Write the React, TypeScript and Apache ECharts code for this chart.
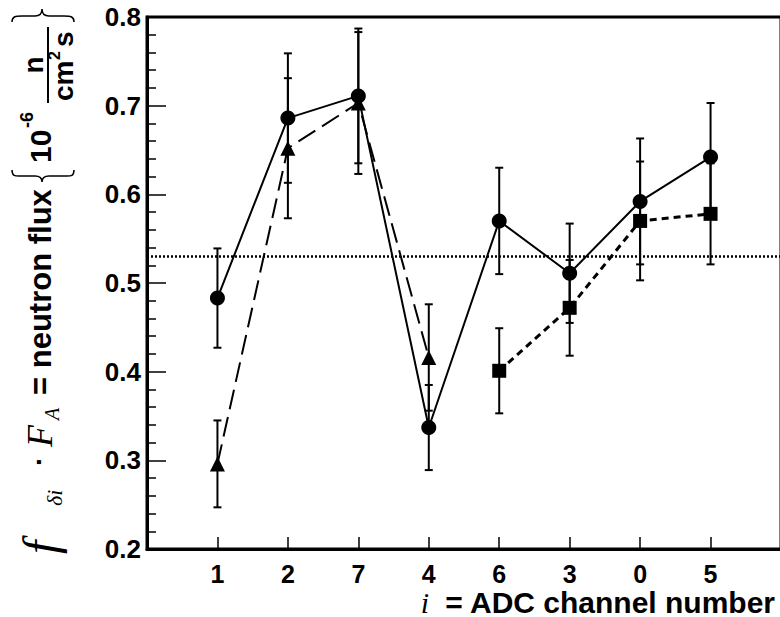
import React, { useEffect, useRef } from 'react';
import * as echarts from 'echarts';

// ADC channel labels in plotted order (positions 1..8)
const channels = ['1', '2', '7', '4', '6', '3', '0', '5'];
const circlePositions = [1, 2, 3, 4, 5, 6, 7, 8];
const circleValues = [0.483, 0.686, 0.711, 0.337, 0.570, 0.511, 0.592, 0.642];
const circleErrors = [0.056, 0.073, 0.076, 0.048, 0.060, 0.056, 0.071, 0.061];
const trianglePositions = [1, 2, 3, 4];
const triangleValues = [0.296, 0.652, 0.703, 0.416];
const triangleErrors = [0.049, 0.079, 0.080, 0.060];
const squarePositions = [5, 6, 7, 8];
const squareValues = [0.401, 0.472, 0.570, 0.578];
const squareErrors = [0.048, 0.054, 0.067, 0.057];
const referenceLevel = 0.531;

const SANS = '"Liberation Sans", Arial, sans-serif';
const SERIF = '"Liberation Serif", "Times New Roman", serif';

echarts.graphic.registerShape(
  'braceOpen',
  echarts.graphic.extendPath(
    'M 408 -28 C 401 -28 402 -24 402 -18 L 402 -5 C 402 0 400 2 396 2 C 400 2 402 4 402 9 L 402 24 C 402 30 401 34 408 34',
    {}
  )
);
echarts.graphic.registerShape(
  'braceClose',
  echarts.graphic.extendPath(
    'M 556 -28 C 562 -28 562 -24 562 -18 L 562 -5 C 562 0 564 2 569 2 C 564 2 562 4 562 9 L 562 24 C 562 30 562 34 556 34',
    {}
  )
);

function errorBars(xs: number[], vs: number[], es: number[]) {
  return {
    type: 'custom',
    silent: true,
    z: 1,
    data: xs.map((x, i) => [x, vs[i] - es[i], vs[i] + es[i]]),
    encode: { x: 0, y: [1, 2] },
    renderItem: (params: any, api: any) => {
      const x = api.value(0);
      const lo = api.coord([x, api.value(1)]);
      const hi = api.coord([x, api.value(2)]);
      const c = 4;
      const st = { stroke: '#000', lineWidth: 2 };
      return {
        type: 'group',
        children: [
          { type: 'line', shape: { x1: lo[0], y1: lo[1], x2: hi[0], y2: hi[1] }, style: st },
          { type: 'line', shape: { x1: lo[0] - c, y1: lo[1], x2: lo[0] + c, y2: lo[1] }, style: st },
          { type: 'line', shape: { x1: hi[0] - c, y1: hi[1], x2: hi[0] + c, y2: hi[1] }, style: st },
        ],
      };
    },
  };
}

export default function App() {
  const ref = useRef<HTMLDivElement>(null);
  useEffect(() => {
    if (!ref.current) return;
    const chart = echarts.init(ref.current, undefined, { renderer: 'svg' });
    const labelStyle = { fontSize: 25, fontWeight: 'bold', color: '#000', fontFamily: SANS };
    chart.setOption({
      animation: false,
      backgroundColor: '#fff',
      grid: {
        left: 147, top: 17, width: 634, height: 532,
        show: true, borderColor: '#000', borderWidth: 3,
      },
      xAxis: {
        type: 'value', min: 0, max: 9, interval: 1,
        axisLine: { lineStyle: { color: '#000', width: 3 } },
        axisTick: { inside: true, length: 12, lineStyle: { color: '#000', width: 1.5 } },
        splitLine: { show: false },
        axisLabel: {
          ...labelStyle, margin: 12,
          formatter: (v: number) => channels[v - 1] ?? '',
        },
      },
      yAxis: {
        type: 'value', min: 0.2, max: 0.8, interval: 0.1,
        axisLine: { show: true, lineStyle: { color: '#000', width: 3 } },
        axisTick: { inside: true, length: 19, lineStyle: { color: '#000', width: 1.5 } },
        minorTick: { show: true, splitNumber: 5, length: 9, lineStyle: { color: '#000', width: 1.5 } },
        splitLine: { show: false },
        axisLabel: { ...labelStyle, fontSize: 26, margin: 6, formatter: (v: number) => v.toFixed(1) },
      },
      series: [
        errorBars(circlePositions, circleValues, circleErrors),
        errorBars(trianglePositions, triangleValues, triangleErrors),
        errorBars(squarePositions, squareValues, squareErrors),
        {
          type: 'line', z: 3,
          data: circlePositions.map((x, i) => [x, circleValues[i]]),
          symbol: 'circle', symbolSize: 15,
          itemStyle: { color: '#000' },
          lineStyle: { color: '#000', width: 2, type: 'solid' },
          markLine: {
            silent: true, symbol: 'none', label: { show: false },
            lineStyle: { color: '#000', width: 2.5, type: [2, 2] },
            data: [{ yAxis: referenceLevel }],
          },
        },
        {
          type: 'line', z: 3,
          data: trianglePositions.map((x, i) => [x, triangleValues[i]]),
          symbol: 'triangle', symbolSize: 15,
          itemStyle: { color: '#000' },
          lineStyle: { color: '#000', width: 2, type: [20, 8] },
        },
        {
          type: 'line', z: 3,
          data: squarePositions.map((x, i) => [x, squareValues[i]]),
          symbol: 'rect', symbolSize: 14,
          itemStyle: { color: '#000' },
          lineStyle: { color: '#000', width: 3, type: [7, 5] },
        },
      ],
      graphic: [
        {
          type: 'text', x: 775, y: 602,
          style: { text: '= ADC channel number', font: `bold 30px ${SANS}`, fill: '#000', align: 'right', verticalAlign: 'middle' },
        },
        {
          type: 'text', x: 429, y: 602,
          style: { text: 'i', font: `italic 30px ${SERIF}`, fill: '#000', align: 'right', verticalAlign: 'middle' },
        },
        {
          type: 'group', x: 40, y: 578, rotation: Math.PI / 2,
          children: [
            { type: 'text', x: 24, y: 0, style: { text: 'f', font: `italic 48px ${SERIF}`, fill: '#000', verticalAlign: 'middle' } },
            { type: 'text', x: 72, y: 14, style: { text: 'δi', font: `italic 22px ${SERIF}`, fill: '#000', verticalAlign: 'middle' } },
            { type: 'text', x: 112, y: -2, style: { text: '·', font: `bold 28px ${SANS}`, fill: '#000', verticalAlign: 'middle' } },
            { type: 'text', x: 131, y: 0, style: { text: 'F', font: `italic 36px ${SERIF}`, fill: '#000', verticalAlign: 'middle' } },
            { type: 'text', x: 158, y: 12, style: { text: 'A', font: `italic 20px ${SERIF}`, fill: '#000', verticalAlign: 'middle' } },
            { type: 'text', x: 183, y: 0, style: { text: '= neutron flux', font: `bold 31px ${SANS}`, fill: '#000', verticalAlign: 'middle' } },
            { type: 'braceOpen', style: { fill: 'none', stroke: '#000', lineWidth: 1.5 } },
            { type: 'text', x: 415, y: 0, style: { text: '10', font: `bold 30px ${SANS}`, fill: '#000', verticalAlign: 'middle' } },
            { type: 'text', x: 450, y: -13, style: { text: '-6', font: `bold 18px ${SANS}`, fill: '#000', verticalAlign: 'middle' } },
            { type: 'text', x: 513, y: -7, style: { text: 'n', font: `bold 28px ${SANS}`, fill: '#000', align: 'center', verticalAlign: 'middle' } },
            { type: 'line', shape: { x1: 475, y1: 8, x2: 551, y2: 8 }, style: { stroke: '#000', lineWidth: 2 } },
            { type: 'text', x: 477, y: 23, style: { text: 'cm', font: `bold 28px ${SANS}`, fill: '#000', verticalAlign: 'middle' } },
            { type: 'text', x: 518, y: 14, style: { text: '2', font: `bold 16px ${SANS}`, fill: '#000', verticalAlign: 'middle' } },
            { type: 'text', x: 531, y: 23, style: { text: 's', font: `bold 28px ${SANS}`, fill: '#000', verticalAlign: 'middle' } },
            { type: 'braceClose', style: { fill: 'none', stroke: '#000', lineWidth: 1.5 } },
          ],
        },
      ],
    });
    return () => chart.dispose();
  }, []);
  return (
    <div style={{ position: 'fixed', left: 0, top: 0, width: 780, height: 617, overflow: 'hidden', background: '#fff' }}>
      <div ref={ref} style={{ width: 790, height: 617 }} />
    </div>
  );
}
